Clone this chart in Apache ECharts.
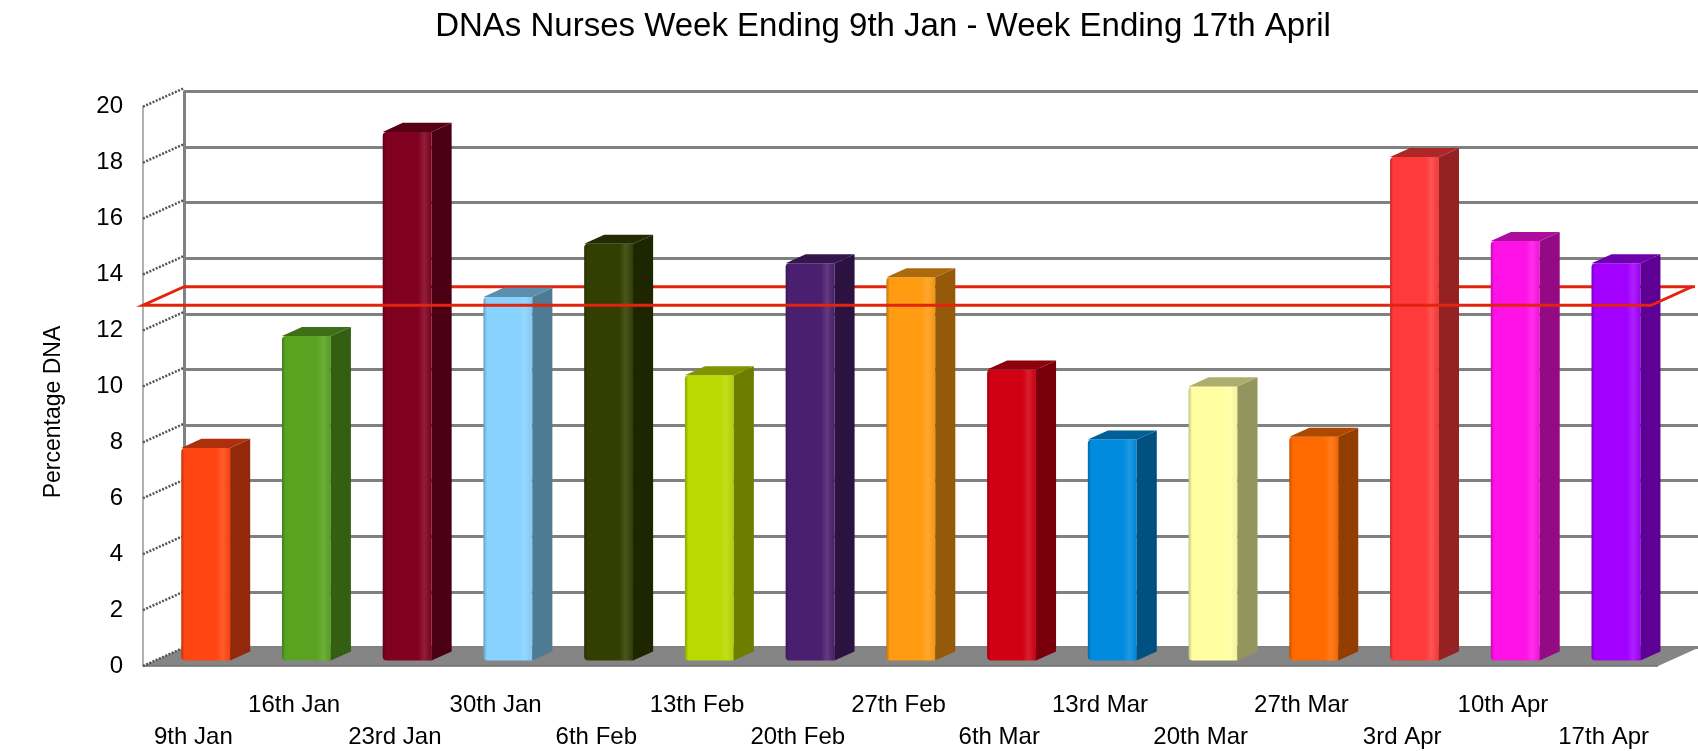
<!DOCTYPE html>
<html>
<head>
<meta charset="utf-8">
<title>DNAs Nurses</title>
<script src="https://cdn.jsdelivr.net/npm/echarts@6/dist/echarts.min.js"></script>
<style>
  html, body { margin: 0; padding: 0; background: #fff; }
  #chart { width: 1698px; height: 751px; }
</style>
</head>
<body>
<div id="chart"></div>
<script>
// Dữ liệu
const categories = ['9th Jan', '16th Jan', '23rd Jan', '30th Jan', '6th Feb', '13th Feb', '20th Feb',
  '27th Feb', '6th Mar', '13rd Mar', '20th Mar', '27th Mar', '3rd Apr', '10th Apr', '17th Apr']
const dnaPercent = [7.6, 11.6, 18.9, 13.0, 14.9, 10.2, 14.2, 13.7, 10.4, 7.9, 9.8, 8.0, 18.0, 15.0, 14.2]
const targetLine = [12.9]
const yTicks = [0, 2, 4, 6, 8, 10, 12, 14, 16, 18, 20]

// Màu từng cột
const barColors = ['#FF4512', '#5AA321', '#80001F', '#88D2FF', '#333F02', '#B9DA00', '#4B1F6F',
  '#FF9C12', '#D10012', '#008BDF', '#FFFFA2', '#FF6A00', '#FF3A3A', '#FF12E6', '#A200FF']

// Chiều sâu 3D (px)
const DX = 41
const DY = 18.5
const FONT = '"Liberation Sans", Arial, sans-serif'

const shade = (hex, f) => {
  const n = parseInt(hex.slice(1), 16)
  let r = (n >> 16) & 255, g = (n >> 8) & 255, b = n & 255
  const adj = c => f < 0 ? Math.round(c * (1 + f)) : Math.round(c + (255 - c) * f)
  return `rgb(${adj(r)},${adj(g)},${adj(b)})`
}

const chart = echarts.init(document.getElementById('chart'), null, { renderer: 'canvas' })

// Sàn, vách trái, đường mục tiêu phía sau
const renderBackdrop = (params, api) => {
  const cs = params.coordSys
  const x0 = cs.x, x1 = cs.x + cs.width
  const y0 = api.coord([0, 0])[1]
  const children = []
  children.push({
    type: 'polygon',
    shape: { points: [[x0, y0], [x1 + 4, y0], [x1 + 4 + DX, y0 - DY], [x0 + DX, y0 - DY]] },
    style: { fill: '#858585' }
  })
  children.push({
    type: 'line',
    shape: { x1: x0, y1: y0, x2: x1 + 4, y2: y0 },
    style: { stroke: '#6e6e6e', lineWidth: 1.5 }
  })
  yTicks.forEach(t => {
    const y = api.coord([0, t])[1]
    children.push({
      type: 'line',
      shape: { x1: x0, y1: y, x2: x0 + DX, y2: y - DY },
      style: { stroke: '#555', lineWidth: 2.5, lineDash: [2, 1.5] }
    })
  })
  const yt = api.coord([0, targetLine[0]])[1] - DY
  children.push({
    type: 'line',
    shape: { x1: x0 + DX, y1: yt, x2: x1 + DX, y2: yt },
    style: { stroke: '#E2230E', lineWidth: 3 }
  })
  return { type: 'group', children }
}

// Cột 3D
const renderBar = (params, api) => {
  const i = api.value(0)
  const v = api.value(1)
  const base = api.coord([i, 0])
  const top = api.coord([i, v])
  const w = api.size([1, 0])[0] * 0.485
  const fx = DX * 0.3, fy = DY * 0.3
  const sx = DX * 0.49, sy = DY * 0.49
  const xa = base[0] - w / 2 + fx, xb = xa + w
  const yb = base[1] - fy, yt = top[1] - fy
  const c = barColors[params.dataIndex]
  return {
    type: 'group',
    children: [
      {
        type: 'rect',
        shape: { x: xa, y: yt, width: w, height: yb - yt, r: [4, 0, 0, 4] },
        style: {
          fill: new echarts.graphic.LinearGradient(0, 0, 1, 0, [
            { offset: 0, color: shade(c, -0.25) },
            { offset: 0.07, color: c },
            { offset: 0.72, color: c },
            { offset: 0.85, color: shade(c, 0.12) },
            { offset: 1, color: shade(c, -0.05) }
          ])
        }
      },
      {
        type: 'polygon',
        shape: { points: [[xb, yt], [xb + sx, yt - sy], [xb + sx, yb - sy], [xb, yb]] },
        style: { fill: shade(c, -0.42) }
      },
      {
        type: 'polygon',
        shape: { points: [[xa, yt], [xb, yt], [xb + sx, yt - sy], [xa + sx, yt - sy]] },
        style: { fill: shade(c, -0.32) }
      }
    ]
  }
}

// Đường mục tiêu phía trước
const renderFront = (params, api) => {
  const cs = params.coordSys
  const x0 = cs.x, x1 = cs.x + cs.width
  const y = api.coord([0, targetLine[0]])[1]
  return {
    type: 'polyline',
    shape: { points: [[x0 + DX, y - DY], [x0, y], [x1 - 3, y], [x1 - 3 + DX, y - DY]] },
    style: { stroke: '#E2230E', lineWidth: 3, fill: null }
  }
}

const option = {
  animation: false,
  backgroundColor: '#fff',
  textStyle: { fontFamily: FONT },
  graphic: [
    {
      type: 'text', x: 883, y: 27,
      style: { text: 'DNAs Nurses Week Ending 9th Jan - Week Ending 17th April', font: '33px ' + FONT,
        fill: '#000', align: 'center', verticalAlign: 'middle' }
    },
    {
      type: 'text', x: 54, y: 412, rotation: Math.PI / 2,
      style: { text: 'Percentage DNA', font: '23px ' + FONT, fill: '#000', align: 'center', verticalAlign: 'middle' }
    }
  ],
  grid: [
    { left: 184, right: 0, top: 91.5, bottom: 103.5 },
    { left: 143, width: 1511, top: 106.7, bottom: 85 }
  ],
  xAxis: [
    { gridIndex: 0, type: 'category', data: categories, show: false },
    {
      gridIndex: 1, type: 'category', data: categories, position: 'bottom',
      axisLine: { show: false }, axisTick: { show: false },
      axisLabel: { interval: (idx) => idx % 2 === 1, margin: 27, fontSize: 24, color: '#000', fontFamily: FONT }
    },
    {
      gridIndex: 1, type: 'category', data: categories, position: 'bottom',
      axisLine: { show: false }, axisTick: { show: false },
      axisLabel: { interval: (idx) => idx % 2 === 0, margin: 59, fontSize: 24, color: '#000', fontFamily: FONT }
    }
  ],
  yAxis: [
    {
      gridIndex: 0, type: 'value', min: 0, max: 20, interval: 2,
      axisLabel: { show: false }, axisTick: { show: false },
      axisLine: { show: true, lineStyle: { color: '#808080', width: 3 } },
      splitLine: { lineStyle: { color: '#808080', width: 3 } }
    },
    {
      gridIndex: 1, type: 'value', min: 0, max: 20, interval: 2,
      axisLabel: { fontSize: 24, color: '#000', margin: 20, fontFamily: FONT },
      axisTick: { show: false },
      axisLine: { show: true, lineStyle: { color: '#999', width: 1.5 } },
      splitLine: { show: false }
    }
  ],
  series: [
    {
      type: 'custom', name: 'backdrop', xAxisIndex: 1, yAxisIndex: 1, z: 1,
      data: [[0, 0]], renderItem: renderBackdrop, silent: true
    },
    {
      type: 'custom', name: 'DNA %', xAxisIndex: 1, yAxisIndex: 1, z: 2,
      data: dnaPercent.map((v, i) => [i, v]), renderItem: renderBar
    },
    {
      type: 'custom', name: 'target', xAxisIndex: 1, yAxisIndex: 1, z: 3,
      data: [[0, targetLine[0]]], renderItem: renderFront, silent: true
    }
  ]
}

chart.setOption(option)
</script>
</body>
</html>
